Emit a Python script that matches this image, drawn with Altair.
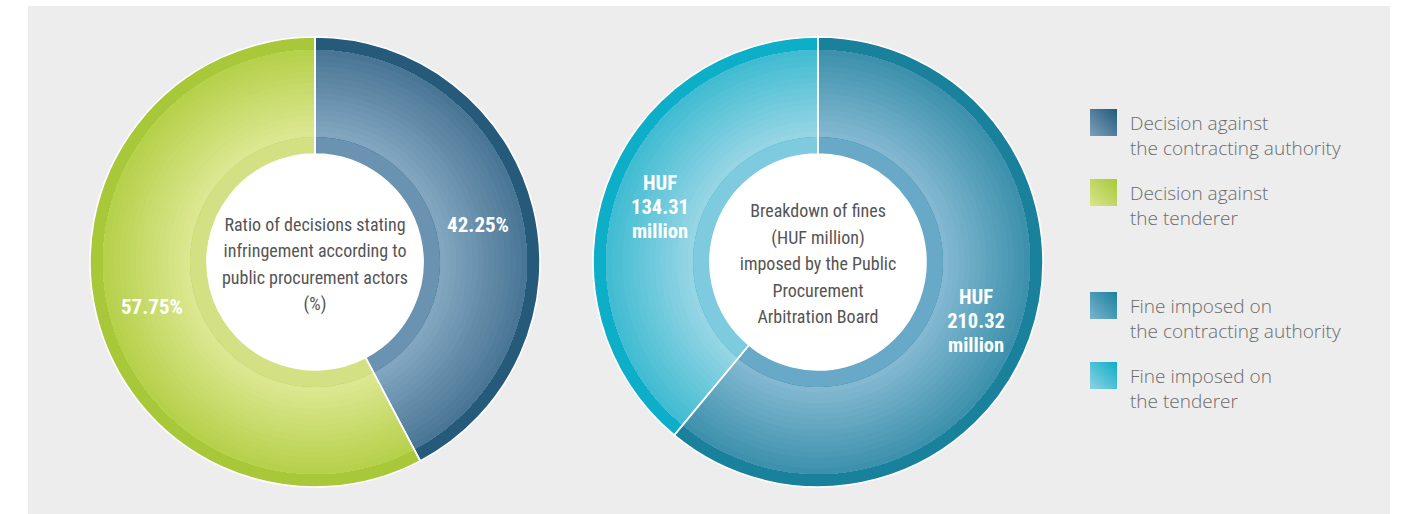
import math

import altair as alt
import pandas as pd

W, H = 1404, 514

# Decisions stating infringement, by public procurement actor (%)
decision_cats = ["Decision against the contracting authority", "Decision against the tenderer"]
decision_vals = [42.25, 57.75]

# Fines imposed by the Public Procurement Arbitration Board (HUF million)
fine_cats = ["Fine imposed on the contracting authority", "Fine imposed on the tenderer"]
fine_vals = [210.32, 134.31]

center_left = ["Ratio of decisions stating", "infringement according to",
               "public procurement actors", "(%)"]
center_right = ["Breakdown of fines", "(HUF million)", "imposed by the Public",
                "Procurement", "Arbitration Board"]

legend_labels = [
    ["Decision against", "the contracting authority"],
    ["Decision against", "the tenderer"],
    ["Fine imposed on", "the contracting authority"],
    ["Fine imposed on", "the tenderer"],
]

# slice palettes: rim band, dark/light ends of the main band, inner band
BLUE = dict(rim="#255a7a", dark="#4a7695", light="#82a6c0", inner="#6a93b1")
GREEN = dict(rim="#a8c83a", dark="#b6d14c", light="#dce791", inner="#d3e184")
TEAL = dict(rim="#1a819d", dark="#3d91ad", light="#83b8d0", inner="#68a9c7")
CYAN = dict(rim="#0daec8", dark="#42bcd2", light="#96d5e4", inner="#7ecbe0")

R_OUT, R_RIM, R_BAND, R_HOLE = 225, 212, 125, 108
STEPS = 16
FONT_NARROW = "Roboto Condensed, Liberation Sans Narrow, Arial Narrow, Roboto, sans-serif"

theta_scale = alt.Scale(domain=[0, 1], range=[0, 2 * math.pi])


def mix(c1, c2, t):
    a = [int(c1[i:i + 2], 16) for i in (1, 3, 5)]
    b = [int(c2[i:i + 2], 16) for i in (1, 3, 5)]
    return "#" + "".join(f"{round(x + (y - x) * t):02x}" for x, y in zip(a, b))


one = pd.DataFrame({"a": [0]})


def donut(cats, vals, cx, cy, pals, label_expr, label_size, label_dy):
    df = pd.DataFrame({"category": cats, "value": vals, "order": list(range(len(cats)))})
    base = alt.Chart(df).transform_stack(
        stack="value", groupby=[], as_=["t0", "t1"], offset="normalize",
        sort=[alt.SortField("order", order="ascending")],
    )
    enc = dict(
        theta=alt.Theta("t0:Q", scale=theta_scale),
        theta2="t1:Q",
        x=alt.value(cx),
        y=alt.value(cy),
    )

    def pick(key_fn):
        return alt.condition(alt.datum.category == cats[0],
                             alt.value(key_fn(pals[0])), alt.value(key_fn(pals[1])))

    layers = [base.mark_arc(radius=R_OUT, radius2=0).encode(color=pick(lambda p: p["rim"]), **enc)]
    # main band: stacked rings, light towards the hole and dark towards the rim
    for k in range(STEPS):
        r_in = R_BAND + (R_RIM - R_BAND) * k / STEPS
        t = k / (STEPS - 1)
        layers.append(
            base.mark_arc(radius=R_RIM, radius2=r_in).encode(
                color=pick(lambda p, t=t: mix(p["light"], p["dark"], t)), **enc)
        )
    layers.append(base.mark_arc(radius=R_BAND, radius2=0).encode(color=pick(lambda p: p["inner"]), **enc))
    # white centre disc (symbol size is the area of its bounding square)
    layers.append(
        alt.Chart(one).mark_circle(size=(2 * R_HOLE) ** 2, color="white", opacity=1)
        .encode(x=alt.value(cx), y=alt.value(cy))
    )
    # white separators between slices and round the rim
    layers.append(
        base.mark_arc(radius=R_OUT, radius2=R_HOLE, fillOpacity=0, stroke="white", strokeWidth=1.6)
        .encode(**enc)
    )
    layers.append(
        base.transform_calculate(mid="(datum.t0 + datum.t1) / 2", label=label_expr)
        .mark_text(radius=168, font=FONT_NARROW, fontSize=label_size, fontWeight="bold",
                   color="white", lineBreak="|", lineHeight=24, align="center",
                   baseline="middle", dy=label_dy)
        .encode(theta=alt.Theta("mid:Q", scale=theta_scale), text="label:N",
                x=alt.value(cx), y=alt.value(cy))
    )
    return layers


panel = alt.Chart(one).mark_rect(color="#ededed").encode(
    x=alt.value(28), x2=alt.value(1390), y=alt.value(6), y2=alt.value(H))

layers = [panel]
layers += donut(decision_cats, decision_vals, 315, 262, [BLUE, GREEN],
                "format(datum.value, '.2f') + '%'", 21, 5)
layers += donut(fine_cats, fine_vals, 818, 262, [TEAL, CYAN],
                "'HUF|' + format(datum.value, '.2f') + '|million'", 20.5, -21)


def center_text(lines, cx, first_y, lh):
    return alt.Chart(pd.DataFrame({"t": ["|".join(lines)]})).mark_text(
        font=FONT_NARROW, fontSize=18, color="#555555", lineBreak="|", lineHeight=lh,
        align="center", baseline="middle",
    ).encode(text="t:N", x=alt.value(cx), y=alt.value(first_y))


layers.append(center_text(center_left, 315, 226, 26.3))
layers.append(center_text(center_right, 818, 212, 26.5))

# legend: gradient swatches with two-line labels
swatch_pals = [BLUE, GREEN, TEAL, CYAN]
swatch_tops = [109, 179, 292, 362]
for lab, pal, top in zip(legend_labels, swatch_pals, swatch_tops):
    grad = {
        "gradient": "linear", "x1": 0, "y1": 1, "x2": 1, "y2": 0,
        "stops": [{"offset": 0, "color": mix(pal["light"], pal["inner"], 0.3)},
                  {"offset": 1, "color": pal["rim"]}],
    }
    layers.append(alt.Chart(one).mark_rect(fill=grad).encode(
        x=alt.value(1090), x2=alt.value(1117), y=alt.value(top), y2=alt.value(top + 27)))
    layers.append(alt.Chart(pd.DataFrame({"t": ["|".join(lab)]})).mark_text(
        font="Open Sans", fontWeight=300, fontSize=19, color="#6b6b6b", lineBreak="|",
        lineHeight=25, align="left", baseline="middle",
    ).encode(text="t:N", x=alt.value(1130), y=alt.value(top + 15)))

chart = alt.layer(*layers).properties(
    width=W, height=H, background="white", padding=0,
    autosize=alt.AutoSizeParams(type="none"),
).configure_view(stroke=None)

chart.save("out.html", embed_options={"renderer": "svg", "actions": False})
